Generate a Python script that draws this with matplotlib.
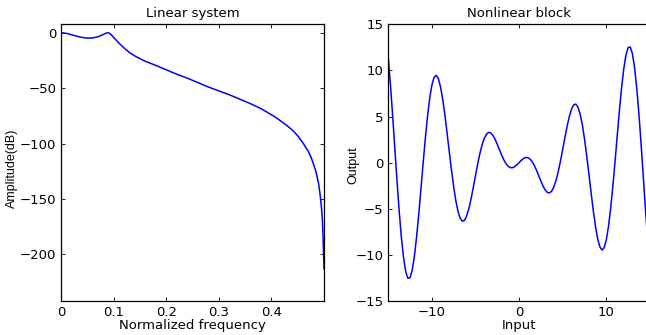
import matplotlib
matplotlib.use("Agg")
import matplotlib.pyplot as plt

plt.rcParams['font.family'] = ['DejaVu Sans']
plt.rcParams['font.size'] = 9.5

# ---- Left panel: linear system amplitude response ----
freq = [0, 0.01, 0.02, 0.03, 0.04, 0.05, 0.06, 0.07, 0.08, 0.085, 0.09, 0.095,
        0.10, 0.11, 0.12, 0.13, 0.14, 0.15, 0.16, 0.18, 0.20, 0.22, 0.24, 0.26,
        0.28, 0.30, 0.32, 0.34, 0.36, 0.38, 0.40, 0.41, 0.42, 0.43, 0.44, 0.45,
        0.46, 0.47, 0.475, 0.48, 0.485, 0.49, 0.4925, 0.495, 0.497, 0.498,
        0.499, 0.5]
amp_db = [0, -0.6, -1.9, -3.2, -4.3, -4.9, -4.7, -3.6, -1.6, -0.4, 0.0, -1.8,
          -4.5, -9.5, -14, -18, -21, -23.5, -25.8, -29.5, -33.5, -37.5, -41, -45,
          -49, -52.5, -56, -60, -64, -68.5, -74, -77, -80.5, -84, -88, -93,
          -99.5, -107, -112, -118.5, -126, -137, -146, -157, -170, -182,
          -197, -213]
freq_ticks = [0, 0.1, 0.2, 0.3, 0.4]
freq_ticklabels = ['0', '0.1', '0.2', '0.3', '0.4']
amp_ticks = [0, -50, -100, -150, -200]

# ---- Right panel: nonlinear block ----
x_in = [i * 0.25 for i in range(-60, 61)]
y_pos = [0, 0.24, 0.44, 0.55, 0.54, 0.39, 0.11, -0.31, -0.83, -1.41, -2.00,
         -2.54, -2.97, -3.23, -3.28, -3.08, -2.61, -1.90, -0.95, 0.18, 1.42,
         2.69, 3.90, 4.95, 5.76, 6.25, 6.35, 6.03, 5.28, 4.13, 2.60, 0.80,
         -1.16, -3.18, -5.12, -6.83, -8.20, -9.10, -9.47, -9.24, -8.39, -6.95,
         -4.99, -2.61, 0.05, 2.83, 5.60, 8.05, 10.13, 11.64, 12.47, 12.54,
         11.80, 10.27, 8.03, 5.21, 1.91, -1.60, -5.15, -8.48, -11.40]
y_out = [-v for v in y_pos[:0:-1]] + y_pos
in_ticks = [-10, 0, 10]
out_ticks = [-15, -10, -5, 0, 5, 10, 15]

fig = plt.figure(figsize=(6.46, 3.35), dpi=100)
ax1 = fig.add_axes([0.0949, 0.1015, 0.4067, 0.826])
ax2 = fig.add_axes([0.601, 0.1015, 0.405, 0.826])

blue = '#0000ff'
ylab_font = dict(family=['Liberation Sans', 'DejaVu Sans'], size=9)

ax1.plot(freq, amp_db, color=blue, lw=1.1)
ax1.set_xlim(0, 0.5)
ax1.set_ylim(-242, 7.6)
ax1.set_xticks(freq_ticks)
ax1.set_xticklabels(freq_ticklabels)
ax1.set_yticks(amp_ticks)
ax1.set_yticklabels([str(t).replace('-', '\u2212') for t in amp_ticks])
ax1.set_title('Linear system', fontsize=9.5, pad=5)
ax1.set_xlabel('Normalized frequency', fontsize=9.5, labelpad=0)
ax1.set_ylabel('Amplitude(dB)', fontdict=ylab_font)
ax1.yaxis.set_label_coords(-0.165, 0.48)

ax2.plot(x_in, y_out, color=blue, lw=1.1)
ax2.set_xlim(-15, 15)
ax2.set_ylim(-15, 15)
ax2.set_xticks(in_ticks)
ax2.set_xticklabels([str(t).replace('-', '\u2212') for t in in_ticks])
ax2.set_yticks(out_ticks)
ax2.set_yticklabels([str(t).replace('-', '\u2212') for t in out_ticks])
ax2.set_title('Nonlinear block', fontsize=9.5, pad=5)
ax2.set_xlabel('Input', fontsize=9.5, labelpad=0)
ax2.set_ylabel('Output', fontdict=ylab_font)
ax2.yaxis.set_label_coords(-0.112, 0.49)

for ax in (ax1, ax2):
    ax.tick_params(direction='in', length=3, width=0.6, top=True, right=True,
                   labelsize=9.5, pad=3.5, colors='black')
    for s in ax.spines.values():
        s.set_linewidth(0.9)
        s.set_color('black')

fig.savefig('out.png', dpi=100)
